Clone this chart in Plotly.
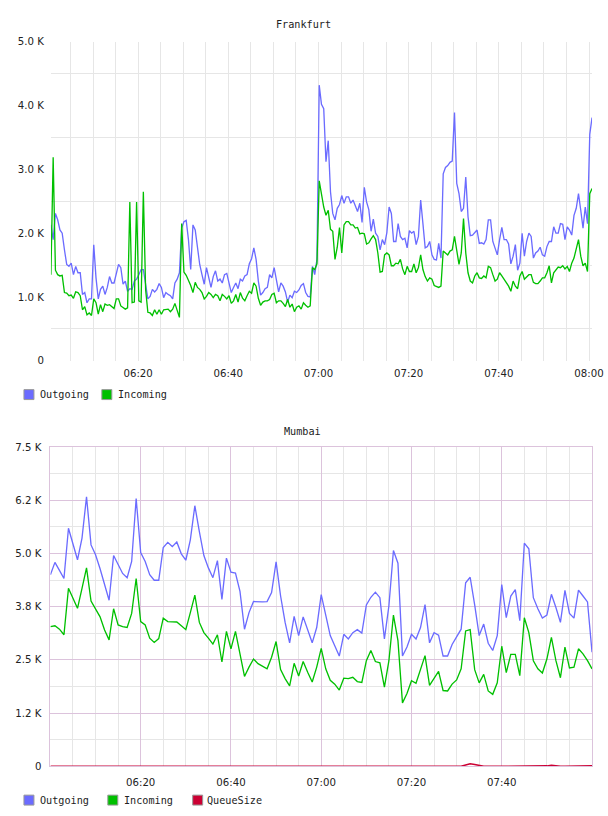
import pandas as pd
import plotly.graph_objects as go

# Target picture size and the page size that gets captured (capture is scaled to the target)
TW, TH = 608, 816
W, H = 619, 822
S = TW / W  # pixel scale applied by the capture

fra_start = "2024-01-01 06:00:40"
fra_outgoing = [
    2.13, 1.90, 2.31, 2.21, 2.05, 2.00, 1.74, 1.51, 1.48, 1.53, 1.35, 1.48, 1.38, 1.38, 1.04, 1.07,
    0.91, 0.97, 0.97, 1.82, 1.30, 0.97, 1.12, 1.17, 1.04, 1.15, 1.32, 1.22, 1.22, 1.38, 1.51, 1.46,
    1.20, 1.25, 1.09, 1.13, 1.12, 1.25, 1.28, 1.35, 1.43, 1.43, 1.17, 0.97, 1.01, 1.12, 1.08, 1.12,
    1.21, 1.15, 0.99, 1.07, 1.04, 1.02, 0.97, 1.22, 1.28, 1.38, 2.08, 2.18, 2.20, 1.90, 1.43, 2.13,
    2.05, 1.74, 1.51, 1.35, 1.20, 1.46, 1.28, 1.15, 1.32, 1.41, 1.25, 1.28, 1.22, 1.35, 1.37, 1.22,
    1.07, 1.15, 1.22, 1.13, 1.28, 1.25, 1.33, 1.35, 1.52, 1.60, 1.77, 1.59, 1.25, 1.03, 1.07, 1.13,
    1.15, 1.35, 1.30, 1.46, 1.25, 1.08, 1.22, 1.17, 1.08, 0.92, 1.03, 0.99, 1.09, 1.07, 1.11, 1.18,
    1.21, 1.07, 1.01, 1.00, 1.48, 1.35, 1.59, 4.32, 4.02, 3.95, 3.12, 3.45, 2.65, 2.31, 2.21, 2.39,
    2.45, 2.59, 2.47, 2.57, 2.57, 2.47, 2.52, 2.42, 2.34, 2.47, 2.17, 2.72, 2.49, 2.37, 2.03, 2.22,
    2.00, 1.95, 1.74, 1.90, 1.82, 2.01, 2.41, 2.31, 1.87, 1.87, 2.15, 1.95, 1.90, 1.92, 1.77, 2.04,
    2.00, 2.03, 1.82, 1.95, 2.52, 2.15, 1.77, 1.79, 1.87, 1.66, 1.59, 1.58, 1.84, 1.61, 2.93, 3.03,
    3.06, 3.11, 3.13, 3.89, 2.78, 2.62, 2.34, 2.39, 2.88, 2.26, 1.96, 1.97, 2.01, 2.05, 1.84, 1.85,
    1.83, 1.90, 2.21, 2.21, 1.87, 1.75, 1.66, 1.90, 2.09, 1.90, 1.90, 1.83, 1.52, 1.64, 1.82, 1.42,
    1.53, 2.00, 1.64, 1.87, 2.00, 1.95, 1.61, 1.69, 1.72, 1.78, 1.66, 1.64, 1.79, 1.87, 1.87, 2.10,
    2.00, 2.00, 2.15, 2.14, 1.90, 2.10, 2.05, 1.97, 2.28, 2.39, 2.62, 2.36, 2.08, 2.41, 2.15, 3.55,
    3.81,
]
fra_incoming = [
    1.35, 3.19, 1.42, 1.35, 1.33, 1.34, 1.07, 1.06, 1.02, 1.03, 0.98, 1.08, 1.07, 1.02, 0.80, 0.85,
    0.72, 0.75, 0.71, 0.97, 0.91, 0.73, 0.88, 0.77, 0.89, 0.87, 0.88, 0.85, 0.82, 0.97, 0.97, 0.86,
    0.84, 0.81, 0.83, 2.49, 0.91, 0.92, 2.49, 0.94, 0.92, 2.65, 1.12, 0.76, 0.75, 0.71, 0.80, 0.73,
    0.80, 0.73, 0.80, 0.80, 0.81, 0.77, 0.81, 0.90, 0.77, 0.68, 2.15, 1.39, 1.34, 1.27, 1.18, 1.07,
    1.23, 1.15, 1.12, 1.07, 0.97, 1.01, 1.07, 1.04, 0.99, 1.04, 1.02, 0.94, 1.04, 1.01, 0.97, 1.02,
    0.90, 0.94, 1.04, 0.92, 1.07, 0.98, 0.94, 1.02, 1.09, 1.06, 1.22, 1.17, 0.98, 0.87, 0.92, 0.94,
    0.94, 0.96, 1.04, 1.06, 0.91, 0.94, 0.94, 0.90, 0.85, 0.96, 0.84, 0.89, 0.77, 0.84, 0.86, 0.81,
    0.91, 0.87, 0.84, 0.86, 1.46, 1.43, 1.52, 2.82, 2.59, 2.41, 2.28, 2.36, 2.06, 2.03, 1.59, 1.78,
    2.09, 1.69, 2.13, 2.18, 2.18, 2.13, 2.13, 2.08, 2.09, 1.99, 2.00, 1.99, 1.83, 1.85, 1.91, 1.96,
    1.90, 1.69, 1.39, 1.40, 1.66, 1.69, 1.66, 1.49, 1.49, 1.53, 1.52, 1.59, 1.44, 1.35, 1.48, 1.40,
    1.40, 1.52, 1.38, 1.46, 1.66, 1.43, 1.32, 1.25, 1.30, 1.28, 1.18, 1.17, 1.15, 1.17, 1.72, 1.69,
    1.66, 1.72, 1.74, 1.95, 1.74, 1.51, 1.69, 2.23, 1.69, 1.38, 1.25, 1.22, 1.33, 1.38, 1.30, 1.29,
    1.33, 1.30, 1.48, 1.46, 1.35, 1.25, 1.28, 1.38, 1.33, 1.28, 1.23, 1.17, 1.09, 1.25, 1.17, 1.13,
    1.33, 1.40, 1.28, 1.32, 1.35, 1.35, 1.23, 1.21, 1.21, 1.25, 1.30, 1.30, 1.38, 1.49, 1.22, 1.38,
    1.42, 1.47, 1.46, 1.49, 1.44, 1.48, 1.40, 1.53, 1.61, 1.77, 1.90, 1.64, 1.49, 1.53, 1.40, 2.62,
    2.70,
]

mum_start = "2024-01-01 06:00"
mum_outgoing = [
    4.50, 4.79, 4.60, 4.41, 5.59, 5.22, 4.85, 5.36, 6.33, 5.20, 4.97, 4.64, 4.27, 3.90, 4.95, 4.74,
    4.53, 4.43, 4.81, 6.29, 5.02, 4.81, 4.50, 4.37, 4.37, 5.14, 5.26, 5.16, 5.27, 4.99, 4.84, 5.32,
    6.12, 5.51, 4.95, 4.66, 4.43, 4.83, 3.92, 4.89, 4.56, 4.54, 4.11, 3.22, 3.61, 3.87, 3.86, 3.86,
    3.87, 4.08, 4.80, 4.00, 3.38, 2.90, 3.52, 3.07, 3.51, 3.20, 2.90, 3.26,
    4.03, 3.55, 3.07, 2.83, 2.59, 3.10, 2.99, 3.14, 3.21, 3.13, 3.79, 3.97, 4.09, 3.96, 2.99, 3.77,
    5.07, 4.77, 2.59, 2.80, 3.10, 2.99, 3.26, 3.80, 2.90, 3.14, 3.08, 2.59, 2.59, 2.86, 3.03, 3.22,
    4.31, 4.44, 3.79, 3.07, 3.34, 2.89, 2.72, 3.07, 4.27, 3.49, 4.00, 4.15, 3.42, 5.24, 5.11, 3.96,
    3.70, 3.48, 3.55, 4.04, 3.73, 3.38, 4.13, 3.59, 3.48, 4.14, 4.00, 3.86, 2.68,
]
mum_incoming = [
    3.28, 3.30, 3.22, 3.09, 4.18, 3.94, 3.71, 4.18, 4.66, 3.88, 3.69, 3.51, 3.20, 2.97, 3.70, 3.32,
    3.28, 3.26, 3.59, 4.41, 3.40, 3.32, 3.01, 2.91, 3.00, 3.48, 3.40, 3.39, 3.39, 3.30, 3.21, 3.61,
    4.02, 3.38, 3.14, 3.01, 2.87, 3.09, 2.45, 3.17, 2.76, 3.17, 2.64, 2.11, 2.33, 2.52, 2.41, 2.35,
    2.29, 2.56, 2.93, 2.27, 2.06, 1.89, 2.42, 2.12, 2.46, 2.21, 1.98, 2.33,
    2.77, 2.29, 2.02, 1.93, 1.79, 2.07, 2.06, 2.09, 1.99, 1.97, 2.48, 2.72, 2.46, 2.43, 1.86, 2.48,
    3.55, 2.95, 1.49, 1.71, 2.01, 1.95, 2.27, 2.60, 1.90, 2.08, 2.23, 1.78, 1.77, 1.93, 2.03, 2.29,
    3.18, 3.21, 2.27, 1.96, 2.16, 1.77, 1.69, 1.96, 2.82, 2.20, 2.63, 2.63, 2.13, 3.49, 3.14, 2.48,
    2.29, 2.19, 2.52, 3.03, 2.48, 2.08, 2.80, 2.31, 2.33, 2.76, 2.64, 2.48, 2.29,
]
mum_queue = [0.0] * 121
for i, v in [(20, 0.01), (40, 0.01), (92, 0.03), (93, 0.06), (94, 0.045), (95, 0.02),
             (110, 0.01), (111, 0.025), (112, 0.01), (119, 0.015), (120, 0.015)]:
    mum_queue[i] = v

fra_yticks = [0, 1, 2, 3, 4, 5]
fra_ylabels = ["0", "1.0 K", "2.0 K", "3.0 K", "4.0 K", "5.0 K"]
mum_yticks = [0, 1.25, 2.5, 3.75, 5.0, 6.25, 7.5]
mum_ylabels = ["0", "1.2 K", "2.5 K", "3.8 K", "5.0 K", "6.2 K", "7.5 K"]
time_labels = ["06:20", "06:40", "07:00", "07:20", "07:40", "08:00"]

DAY = "2024-01-01 "
C_OUT, C_IN, C_Q = "#6b6bff", "#00c000", "#cc0033"
GRID = "#e6e6e6"
MAJOR = "#dcc3dc"
TICKFONT = dict(family="DejaVu Sans", size=10 / S, color="#222")
MONO = dict(family="DejaVu Sans Mono", size=10 / S, color="#222")
LW = 1.3 / S

fra_t = pd.date_range(fra_start, periods=len(fra_outgoing), freq="30s")
mum_t = pd.date_range(mum_start, periods=len(mum_outgoing), freq="min")
minor_x = [t for t in pd.date_range(DAY + "06:05", DAY + "08:00", freq="5min") if t.minute % 20 != 0]

fig = go.Figure()
fig.add_trace(go.Scatter(x=fra_t, y=fra_outgoing, mode="lines", line=dict(color=C_OUT, width=LW),
                         xaxis="x", yaxis="y", showlegend=False))
fig.add_trace(go.Scatter(x=fra_t, y=fra_incoming, mode="lines", line=dict(color=C_IN, width=LW),
                         xaxis="x", yaxis="y", showlegend=False))
fig.add_trace(go.Scatter(x=mum_t, y=mum_outgoing, mode="lines", line=dict(color=C_OUT, width=LW),
                         xaxis="x2", yaxis="y2", showlegend=False))
fig.add_trace(go.Scatter(x=mum_t, y=mum_incoming, mode="lines", line=dict(color=C_IN, width=LW),
                         xaxis="x2", yaxis="y2", showlegend=False))
fig.add_trace(go.Scatter(x=mum_t, y=mum_queue, mode="lines", line=dict(color=C_Q, width=1.5 / S),
                         xaxis="x2", yaxis="y2", showlegend=False))

# positions given in target-picture pixels -> paper fractions
def px_x(p):
    return p / TW

def px_y(p):
    return 1 - p / TH

fig.update_layout(
    width=W, height=H, autosize=False,
    margin=dict(l=0, r=0, t=0, b=0),
    paper_bgcolor="white", plot_bgcolor="white",
    xaxis=dict(
        domain=[px_x(51), px_x(593)], anchor="y",
        range=[fra_t[0], fra_t[-1]],
        tickmode="array", tickvals=[DAY + t for t in time_labels], ticktext=time_labels,
        showgrid=True, gridcolor=GRID, gridwidth=1,
        minor=dict(tickvals=minor_x, showgrid=True, gridcolor=GRID, gridwidth=1),
        zeroline=False, showline=False, ticks="", tickfont=TICKFONT, ticklabelstandoff=5,
        ticklabeloverflow="allow",
    ),
    yaxis=dict(
        domain=[px_y(358), px_y(37)], anchor="x",
        range=[0, 5],
        tickmode="array", tickvals=fra_yticks, ticktext=fra_ylabels,
        showgrid=False,
        minor=dict(tickvals=[0.5, 1.5, 2.5, 3.5, 4.5], showgrid=True, gridcolor=GRID, gridwidth=1),
        zeroline=False, showline=False, ticks="", tickfont=TICKFONT, ticklabelstandoff=6,
    ),
    xaxis2=dict(
        domain=[px_x(50.5), px_x(593)], anchor="y2",
        range=[mum_t[0], mum_t[-1]],
        tickmode="array", tickvals=[DAY + t for t in time_labels[:5]], ticktext=time_labels[:5],
        showgrid=True, gridcolor=MAJOR, gridwidth=1,
        minor=dict(tickvals=minor_x, showgrid=True, gridcolor=GRID, gridwidth=1),
        zeroline=False, showline=True, linecolor=MAJOR, linewidth=1, mirror=True,
        ticks="", tickfont=TICKFONT, ticklabelstandoff=6,
    ),
    yaxis2=dict(
        domain=[px_y(766), px_y(444.7)], anchor="x2",
        range=[0, 7.5],
        tickmode="array", tickvals=mum_yticks, ticktext=mum_ylabels,
        showgrid=True, gridcolor=MAJOR, gridwidth=1,
        minor=dict(tickvals=[0.625, 1.875, 3.125, 4.375, 5.625, 6.875], showgrid=True,
                   gridcolor=GRID, gridwidth=1),
        zeroline=False, showline=True, linecolor=MAJOR, linewidth=1, mirror=True,
        ticks="", tickfont=TICKFONT, ticklabelstandoff=6,
    ),
)

fig.add_annotation(text="Frankfurt", x=px_x(304), y=px_y(20), xref="paper", yref="paper",
                   showarrow=False, font=MONO, xanchor="center", yanchor="middle")
fig.add_annotation(text="Mumbai", x=px_x(303), y=px_y(429), xref="paper", yref="paper",
                   showarrow=False, font=MONO, xanchor="center", yanchor="middle")

def legend_item(x_sw, x_txt, y_c, color, label):
    fig.add_shape(type="rect", xref="paper", yref="paper",
                  x0=px_x(x_sw), x1=px_x(x_sw + 10), y0=px_y(y_c + 5), y1=px_y(y_c - 5),
                  fillcolor=color, line=dict(color="#999", width=1))
    fig.add_annotation(text=label, x=px_x(x_txt), y=px_y(y_c), xref="paper", yref="paper",
                       showarrow=False, font=MONO, xanchor="left", yanchor="middle")

legend_item(24, 38, 392, C_OUT, "Outgoing")
legend_item(102, 116, 392, C_IN, "Incoming")
legend_item(24, 38, 800, C_OUT, "Outgoing")
legend_item(108, 122, 800, C_IN, "Incoming")
legend_item(193, 205, 800, C_Q, "QueueSize")

fig.write_html("out.html")
